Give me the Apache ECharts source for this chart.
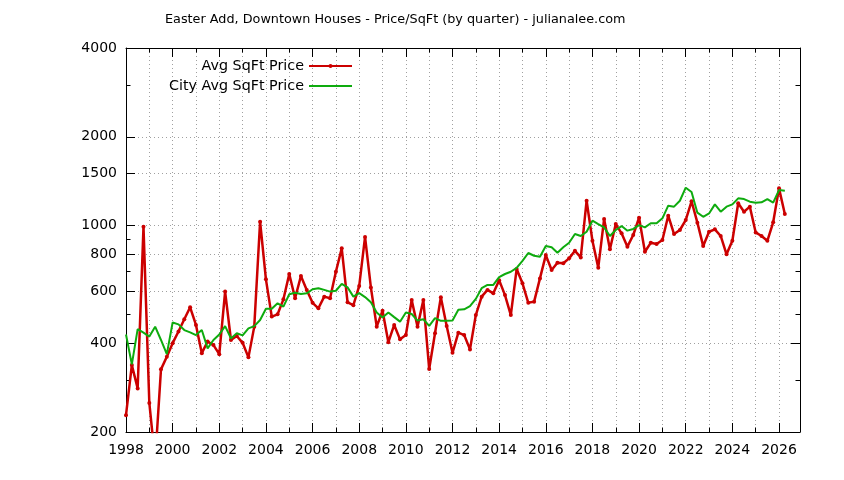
<!DOCTYPE html>
<html><head><meta charset="utf-8">
<script src="https://cdn.jsdelivr.net/npm/echarts@6/dist/echarts.min.js"></script>
<style>html,body{margin:0;padding:0;background:#fff}#c{width:844px;height:480px}</style>
</head><body><div id="c"></div>
<script>
const startYear = 1998; // first quarter plotted
const avgSqFt = [
228, 337, 281, 992,
251, 160, 326, 360,
400, 438, 482, 529,
461, 370, 405, 394,
367, 598, 410, 423,
401, 358, 455, 1032,
658, 492, 501, 563,
686, 568, 675, 606,
548, 525, 575, 568,
698, 838, 550, 538,
625, 916, 618, 455,
515, 403, 461, 412,
426, 560, 455, 560,
327, 432, 572, 457,
371, 434, 426, 381,
498, 575, 606, 590,
654, 582, 498, 713,
638, 548, 553, 663,
795, 708, 749, 746,
775, 822, 781, 1215,
889, 721, 1053, 832,
1013, 942, 849, 930,
1064, 816, 875, 867,
894, 1081, 937, 967,
1045, 1210, 1024, 853,
954, 972, 923, 800,
889, 1191, 1115, 1160,
949, 923, 889, 1027,
1338, 1095];
const cityAvgSqFt = [
428, 339, 446, 434,
421, 455, 410, 367,
470, 463, 443, 435,
426, 443, 384, 410,
428, 457, 415, 432,
425, 449, 457, 479,
523, 523, 546, 532,
586, 593, 587, 590,
609, 614, 606, 598,
602, 635, 618, 575,
591, 573, 550, 508,
489, 508, 490, 473,
508, 502, 477, 482,
458, 486, 476, 476,
477, 519, 521, 534,
565, 614, 630, 630,
670, 686, 698, 720,
760, 808, 791, 785,
853, 845, 810, 845,
875, 937, 923, 954,
1040, 1013, 987, 923,
967, 997, 962, 975,
1004, 987, 1019, 1019,
1059, 1169, 1160, 1215,
1345, 1300, 1107, 1072,
1100, 1181, 1115, 1160,
1181, 1238, 1231, 1206,
1197, 1200, 1231, 1197,
1320, 1313];
const yLabelTicks = [200, 400, 600, 800, 1000, 1500, 2000, 4000];
const yMinorTicks = [300, 500, 700, 900, 3000];
const xLabelYears = [1998, 2000, 2002, 2004, 2006, 2008, 2010, 2012, 2014, 2016, 2018, 2020, 2022, 2024, 2026];
const titleText = 'Easter Add, Downtown Houses - Price/SqFt (by quarter) - julianalee.com';
const seriesNames = ['Avg SqFt Price', 'City Avg SqFt Price'];

const toPoints = arr => arr.map((v, i) => [startYear + i / 4, v]);
const FONT = 'DejaVu Sans';
const BLACK = '#000';
const RED = '#cc0000';
const GREEN = '#0eab0e';
const gridLine = { show: true, lineStyle: { color: '#a0a0a0', width: 1, type: [1, 3] } };
const xBase = { type: 'value', gridIndex: 0, min: 1998, max: 2026.9 };
const yBase = { type: 'log', logBase: 10, gridIndex: 0, min: 200, max: 4000 };
const noLabel = { show: false };
const noSplit = { show: false };

const chart = echarts.init(document.getElementById('c'), null, { renderer: 'canvas' });
chart.setOption({
  animation: false,
  backgroundColor: '#fff',
  graphic: [{
    type: 'text', left: 165, top: 13,
    style: { text: titleText, font: '12.8px "DejaVu Sans"', fill: BLACK }
  }],
  grid: { left: 126, right: 44, top: 48, bottom: 48, containLabel: false },
  legend: {
    data: [
      { name: seriesNames[0] },
      { name: seriesNames[1], itemStyle: { opacity: 0 } }
    ],
    orient: 'vertical', align: 'right',
    right: 491, top: 59, itemWidth: 43, itemHeight: 5, itemGap: 6, padding: 0,
    textStyle: { fontFamily: FONT, fontSize: 14.3, color: BLACK },
    selectedMode: false
  },
  xAxis: [
    Object.assign({}, xBase, {
      position: 'bottom', interval: 1,
      axisLine: { show: true, onZero: false, lineStyle: { color: BLACK, width: 1 } },
      axisTick: { show: true, inside: true, length: 4.5, lineStyle: { color: BLACK } },
      axisLabel: {
        color: BLACK, fontFamily: FONT, fontSize: 14, margin: 11,
        formatter: v => (Number.isInteger(v) && v % 2 === 0) ? String(v) : ''
      },
      splitLine: gridLine
    }),
    Object.assign({}, xBase, {
      position: 'bottom',
      axisLine: { show: false },
      axisTick: { show: true, inside: true, length: 9, customValues: xLabelYears, lineStyle: { color: BLACK } },
      axisLabel: noLabel, splitLine: noSplit
    }),
    Object.assign({}, xBase, {
      position: 'top', interval: 1,
      axisLine: { show: true, onZero: false, lineStyle: { color: BLACK, width: 1 } },
      axisTick: { show: true, inside: true, length: 4.5, lineStyle: { color: BLACK } },
      axisLabel: noLabel, splitLine: noSplit
    }),
    Object.assign({}, xBase, {
      position: 'top',
      axisLine: { show: false },
      axisTick: { show: true, inside: true, length: 9, customValues: xLabelYears, lineStyle: { color: BLACK } },
      axisLabel: noLabel, splitLine: noSplit
    })
  ],
  yAxis: [
    Object.assign({}, yBase, {
      position: 'left',
      axisLine: { show: true, onZero: false, lineStyle: { color: BLACK, width: 1 } },
      axisTick: { show: true, inside: true, length: 9, customValues: yLabelTicks, lineStyle: { color: BLACK } },
      axisLabel: { customValues: yLabelTicks, color: BLACK, fontFamily: FONT, fontSize: 14, margin: 9, formatter: v => String(v) },
      splitLine: gridLine
    }),
    Object.assign({}, yBase, {
      position: 'left',
      axisLine: { show: false },
      axisTick: { show: true, inside: true, length: 4.5, customValues: yMinorTicks, lineStyle: { color: BLACK } },
      axisLabel: noLabel, splitLine: noSplit
    }),
    Object.assign({}, yBase, {
      position: 'right',
      axisLine: { show: true, onZero: false, lineStyle: { color: BLACK, width: 1 } },
      axisTick: { show: true, inside: true, length: 9, customValues: yLabelTicks, lineStyle: { color: BLACK } },
      axisLabel: noLabel, splitLine: noSplit
    }),
    Object.assign({}, yBase, {
      position: 'right',
      axisLine: { show: false },
      axisTick: { show: true, inside: true, length: 4.5, customValues: yMinorTicks, lineStyle: { color: BLACK } },
      axisLabel: noLabel, splitLine: noSplit
    })
  ],
  series: [
    {
      name: seriesNames[0], type: 'line', xAxisIndex: 0, yAxisIndex: 0,
      data: toPoints(avgSqFt), clip: true, z: 2,
      symbol: 'circle', symbolSize: 4, showSymbol: true,
      lineStyle: { color: RED, width: 2.5 },
      itemStyle: { color: RED },
      emphasis: { disabled: true }
    },
    {
      name: seriesNames[1], type: 'line', xAxisIndex: 0, yAxisIndex: 0,
      data: toPoints(cityAvgSqFt), clip: true, z: 3,
      symbol: 'none', showSymbol: false,
      lineStyle: { color: GREEN, width: 2 },
      itemStyle: { color: GREEN },
      emphasis: { disabled: true }
    }
  ]
});
</script>
</body></html>
